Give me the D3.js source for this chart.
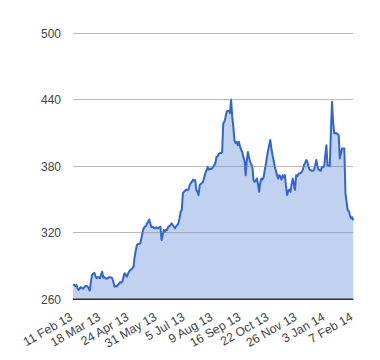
<!DOCTYPE html>
<html><head><meta charset="utf-8">
<script src="https://cdn.jsdelivr.net/npm/d3@7"></script>
<style>body{margin:0;background:#fff}svg{display:block}</style>
</head><body>
<svg id="c" width="380" height="360"></svg>
<script>
const tickLabels = ["11 Feb 13","18 Mar 13","24 Apr 13","31 May 13","5 Jul 13","9 Aug 13","16 Sep 13","22 Oct 13","26 Nov 13","3 Jan 14","7 Feb 14"];
const tickEvery = 25;
const yTicks = [260,320,380,440,500];
const values = [
273.5,273,272,273,270,268.4,270,271,270,269.5,
271,272,272,271.5,270,268,276,282,283,284,
281,279,280,280,279,282,285,279.5,280,279,
278.5,279,280,280,279.5,279,276,271.4,272,271.5,
273,274,275.5,275,276,280,283.5,282,280.5,283,
285,286.4,287,288,289.4,298.4,304,309,310,310,
310.5,315,320,324,325.5,326,328.5,330,332,328,
325,325.5,324.5,324,325,324.5,324,325,325.5,313.5,
318,322.5,321,323,322.5,325.5,326,327,328.5,327,
325.5,324,326,327,328.5,333,339,340.5,355.6,357,
358,359,358.5,359,363,365,366,368,367,367.5,
358.6,357,354,363,364,365,366,370,373.6,376,
379.6,377,378,377.5,378,379.6,381,383,388.6,389,
391,392,392,392.5,418.8,420,424,429,430,430,
428,440.3,425,415.7,403.7,401,402,399,402,398,
394.7,393,388,385,372,385,393,388,384,382,
379,367.6,366,367,369,364,357,365,369,368,
370,376.6,382,388.6,394,399,403.7,396,390,385,
379.6,376,372,369,372,370.6,368,372,370,372,
362,354,358,359,357,364,369,364,358.6,372,
371,373,373.6,374,375,377,381,383,385.7,384,
380,377,376.5,376,376,377,381,385.7,380,377,
376.5,376,379.6,379,380,390,399,381,380.5,380,
410,438.3,420,409.8,410,409.8,409,408,387,392,
396,396,396,355.6,348,340.5,339.5,336,333,334,
331.5
];

const svg = d3.select("#c");
const L = 73, R = 353.3, T = 33.3, B = 299.3;
const x = d3.scaleLinear().domain([0, values.length - 1]).range([L, R]);
const y = d3.scaleLinear().domain([260, 500]).range([B, T]);

// gridlines
svg.append("g").selectAll("line").data(yTicks.filter(d => d !== 260)).join("line")
  .attr("x1", L).attr("x2", R).attr("y1", d => y(d)).attr("y2", d => y(d))
  .attr("stroke", "#cccccc").attr("stroke-width", 1).attr("shape-rendering", "crispEdges");

// area
const area = d3.area().x((d, i) => x(i)).y0(y(260)).y1(d => y(d));
svg.append("path").datum(values).attr("d", area).attr("fill", "#3366cc").attr("fill-opacity", 0.3);
const line = d3.line().x((d, i) => x(i)).y(d => y(d));
svg.append("path").datum(values).attr("d", line).attr("fill", "none")
  .attr("stroke", "#3366cc").attr("stroke-width", 2).attr("stroke-linejoin", "round");

// gridlines visible through the area
svg.append("g").selectAll("line").data(yTicks.filter(d => d !== 260)).join("line")
  .attr("x1", L).attr("x2", R).attr("y1", d => y(d)).attr("y2", d => y(d))
  .attr("stroke", "#999").attr("stroke-opacity", 0.35).attr("shape-rendering", "crispEdges");

// baseline
svg.append("line").attr("x1", L).attr("x2", R).attr("y1", y(260)).attr("y2", y(260))
  .attr("stroke", "#333").attr("stroke-width", 1.5);

// y axis
const yAxis = d3.axisLeft(y).tickValues(yTicks).tickSize(0).tickPadding(12);
const gy = svg.append("g").attr("transform", `translate(${L},0)`).call(yAxis);
gy.select(".domain").remove();
gy.selectAll("text").attr("font-family", "Arial, 'Liberation Sans', sans-serif")
  .attr("font-size", 12).attr("fill", "#444");

// x axis
const xTicks = tickLabels.map((_, i) => i * tickEvery);
const xAxis = d3.axisBottom(x).tickValues(xTicks).tickFormat((d, i) => tickLabels[i]).tickSize(0);
const gx = svg.append("g").attr("transform", `translate(0,${B})`).call(xAxis);
gx.select(".domain").remove();
gx.selectAll("text")
  .attr("font-family", "Arial, 'Liberation Sans', sans-serif")
  .attr("font-size", 12.3).attr("fill", "#444")
  .attr("text-anchor", "end").attr("dy", null).attr("y", 0)
  .attr("transform", "translate(0,20) rotate(-30)");
</script>
</body></html>
